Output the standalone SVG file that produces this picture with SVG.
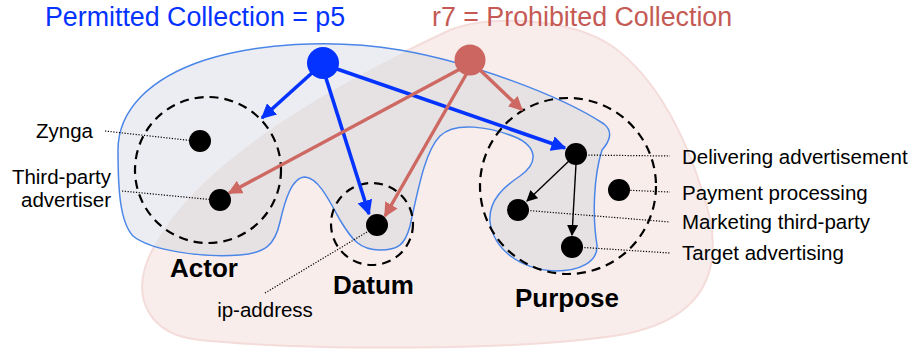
<svg xmlns="http://www.w3.org/2000/svg" width="917" height="352" viewBox="0 0 917 352">
<style>
.lbl{font-family:"Liberation Sans",Arial,sans-serif;font-size:20.5px;fill:#000}
.big{font-family:"Liberation Sans",Arial,sans-serif;font-size:26px;font-weight:bold;fill:#000}
.ttl{font-family:"Liberation Sans",Arial,sans-serif;font-size:26.8px}
.dash{fill:none;stroke:#000;stroke-width:2.2;stroke-dasharray:9,6}
.dot{fill:#000}
.lead{stroke:#000;stroke-width:1.2;stroke-dasharray:1.2,1.6;fill:none}
.ba{stroke:#0433ff;stroke-width:3.6;fill:none}
.ra{stroke:#cd6962;stroke-width:3.4;fill:none}
.ka{stroke:#000;stroke-width:1.4;fill:none}
</style>
<defs>
<path id="pinkShape" d="M 450,30 C 490,14 570,18 612,46 C 662,82 692,150 710,218 C 722,280 695,320 625,334 C 520,352 300,350 200,340 C 150,335 133,300 147,262 C 178,180 300,100 450,30 Z"/>
<path id="blueShape" d="M 118,150 C 118,110 150,78 205,60 C 255,44 330,38 400,50 C 470,62 560,95 604,124 C 614,132 609,142 602,150 C 594,175 592,215 597,245 C 598,262 580,271 555,271 C 520,269 494,250 490,222 C 488,200 505,186 520,176 C 540,162 536,146 515,137 C 490,127 455,121 440,136 C 425,151 418,190 410,226 C 405,245 398,250 380,250 C 360,250 352,240 340,220 C 328,198 318,178 305,177 C 292,177 285,200 280,222 C 275,245 265,253 240,255 C 200,258 150,250 133,236 C 120,222 118,190 118,150 Z"/>
<clipPath id="pinkClip"><use href="#pinkShape"/></clipPath>
<marker id="mb" viewBox="0 0 10 10" refX="9" refY="5" markerWidth="4.2" markerHeight="4.2" orient="auto" markerUnits="strokeWidth"><path d="M0,0 L10,5 L0,10 z" fill="#0433ff"/></marker>
<marker id="mr" viewBox="0 0 10 10" refX="9" refY="5" markerWidth="4.2" markerHeight="4.2" orient="auto" markerUnits="strokeWidth"><path d="M0,0 L10,5 L0,10 z" fill="#cd6962"/></marker>
<marker id="mk" viewBox="0 0 10 10" refX="9" refY="5" markerWidth="8" markerHeight="8" orient="auto" markerUnits="strokeWidth"><path d="M0,0 L10,5 L0,10 z" fill="#000"/></marker>
</defs>
<rect width="917" height="352" fill="#fff"/>
<g id="prohibited-region">
<use href="#pinkShape" fill="#f9edec" stroke="#f3dcd9" stroke-width="2"/>
</g>
<g id="permitted-region">
<use href="#blueShape" fill="#ecedf2"/>
<use href="#blueShape" fill="#e6e1e3" clip-path="url(#pinkClip)"/>
<use href="#blueShape" fill="none" stroke="#4a86e8" stroke-width="1.5"/>
</g>
<text class="ttl" x="45" y="26" fill="#0433ff">Permitted Collection = p5</text>
<text class="ttl" x="432" y="26" fill="#c55a55">r7 = Prohibited Collection</text>
<g id="actor">
<circle class="dash" cx="208" cy="170" r="73"/>
<text class="big" x="170" y="277">Actor</text>
</g>
<g id="datum">
<circle class="dash" cx="372" cy="224" r="41"/>
<text class="big" x="333" y="294">Datum</text>
</g>
<g id="purpose">
<circle class="dash" cx="568" cy="186" r="88"/>
<text class="big" x="515" y="307">Purpose</text>
</g>
<g id="connectors">
<line class="lead" x1="105" y1="131" x2="195" y2="141"/>
<line class="lead" x1="122" y1="191" x2="215" y2="200"/>
<line class="lead" x1="265" y1="293" x2="372" y2="229"/>
<line class="lead" x1="580" y1="155" x2="670" y2="156"/>
<line class="lead" x1="622" y1="190" x2="670" y2="192"/>
<line class="lead" x1="522" y1="210" x2="670" y2="222"/>
<line class="lead" x1="576" y1="247" x2="670" y2="253"/>
<line class="ba" x1="313" y1="72" x2="262" y2="118" marker-end="url(#mb)"/>
<line class="ba" x1="325" y1="75" x2="369" y2="214" marker-end="url(#mb)"/>
<line class="ba" x1="337" y1="69" x2="565" y2="148" marker-end="url(#mb)"/>
<line class="ra" x1="462" y1="68" x2="229" y2="193" marker-end="url(#mr)"/>
<line class="ra" x1="467" y1="73" x2="385" y2="216" marker-end="url(#mr)"/>
<line class="ra" x1="479" y1="69" x2="522" y2="110" marker-end="url(#mr)"/>
<line class="ka" x1="570" y1="160" x2="527" y2="201" marker-end="url(#mk)"/>
<line class="ka" x1="576" y1="164" x2="572" y2="235" marker-end="url(#mk)"/>
</g>
<g id="p5"><circle cx="323" cy="63" r="16" fill="#0433ff"/></g>
<g id="r7"><circle cx="470" cy="60" r="15.5" fill="#cc6660"/></g>
<g id="zynga"><circle class="dot" cx="200" cy="141" r="11"/><text class="lbl" x="36" y="138">Zynga</text></g>
<g id="third-party-advertiser"><circle class="dot" cx="220" cy="200" r="11"/><text class="lbl" x="111" y="184" text-anchor="end">Third-party</text><text class="lbl" x="111" y="207" text-anchor="end">advertiser</text></g>
<g id="ip-address"><circle class="dot" cx="377" cy="225" r="11"/><text class="lbl" x="265" y="317" text-anchor="middle">ip-address</text></g>
<g id="delivering-advertisement"><circle class="dot" cx="576" cy="154" r="11"/><text class="lbl" x="682" y="164">Delivering advertisement</text></g>
<g id="payment-processing"><circle class="dot" cx="619" cy="190" r="11"/><text class="lbl" x="682" y="200">Payment processing</text></g>
<g id="marketing-third-party"><circle class="dot" cx="518" cy="210" r="11"/><text class="lbl" x="682" y="229">Marketing third-party</text></g>
<g id="target-advertising"><circle class="dot" cx="572" cy="247" r="11"/><text class="lbl" x="682" y="260">Target advertising</text></g>
</svg>
